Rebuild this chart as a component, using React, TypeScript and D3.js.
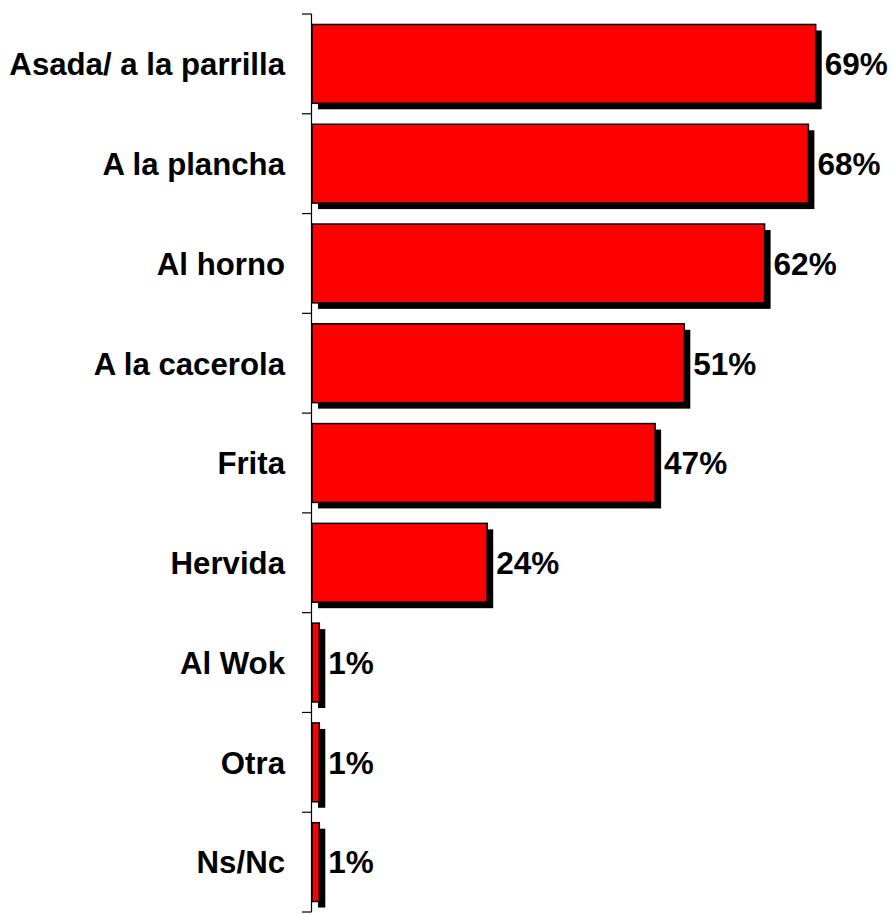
import React from "react";
import * as d3 from "d3";

const categories = [
  "Asada/ a la parrilla",
  "A la plancha",
  "Al horno",
  "A la cacerola",
  "Frita",
  "Hervida",
  "Al Wok",
  "Otra",
  "Ns/Nc",
];
const values = [69, 68, 62, 51, 47, 24, 1, 1, 1];

const W = 894;
const H = 914;

export default function App() {
  const x = d3.scaleLinear().domain([0, 100]).range([312, 1042]);
  const y = d3.scaleBand<string>().domain(categories).range([14, 912]).padding(0);
  const step = y.step();
  const barH = step * 0.79;
  const barOff = step * 0.105;
  const shadow = 6;
  const axisX = 311.5;
  const font = "Arial, 'Liberation Sans', sans-serif";

  const ticks = d3.range(categories.length + 1).map((i) => 14 + i * step);

  return (
    <svg
      width={W}
      height={H}
      style={{ position: "absolute", left: 0, top: 0, display: "block" }}
    >
      <rect x={0} y={0} width={W} height={H} fill="#ffffff" />
      {categories.map((c, i) => {
        const y0 = (y(c) as number) + barOff;
        const x0 = x(0);
        const w = x(values[i]) - x0;
        return (
          <g key={c}>
            <rect x={x0 + shadow} y={y0 + shadow} width={w} height={barH} fill="#000" />
            <rect
              x={x0}
              y={y0}
              width={w}
              height={barH}
              fill="#ff0000"
              stroke="#000"
              strokeWidth={1.5}
            />
            <text
              x={285}
              y={(y(c) as number) + step / 2 + 11.3}
              textAnchor="end"
              fontFamily={font}
              fontWeight="bold"
              fontSize={31.2}
              fill="#000"
            >
              {c}
            </text>
            <text
              x={x(values[i]) + shadow + 3}
              y={(y(c) as number) + step / 2 + 11.3}
              textAnchor="start"
              fontFamily={font}
              fontWeight="bold"
              fontSize={31.5}
              fill="#000"
            >
              {values[i] + "%"}
            </text>
          </g>
        );
      })}
      <line x1={axisX} x2={axisX} y1={14} y2={912} stroke="#000" strokeWidth={1.2} />
      {ticks.map((t, i) => (
        <line key={i} x1={302} x2={axisX} y1={t} y2={t} stroke="#000" strokeWidth={1.2} />
      ))}
    </svg>
  );
}
